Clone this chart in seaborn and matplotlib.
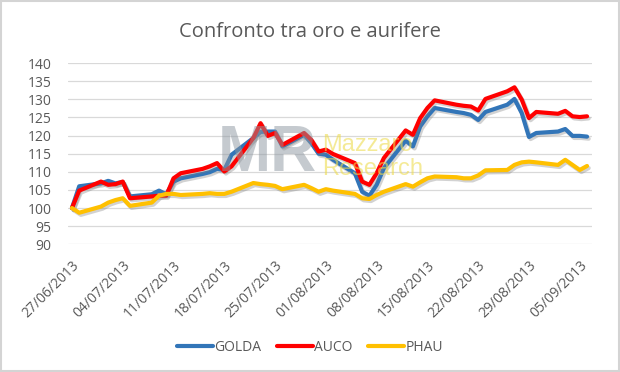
import pandas as pd
import numpy as np
import matplotlib
matplotlib.use("Agg")
import matplotlib.pyplot as plt
import matplotlib.dates as mdates
import matplotlib.patheffects as pe
from matplotlib.lines import Line2D
from matplotlib.patches import Rectangle
import seaborn as sns

# Giorni di borsa (27/06/2013 - 06/09/2013)
dates = ["27/06/2013", "28/06/2013",
         "01/07/2013", "02/07/2013", "03/07/2013", "04/07/2013", "05/07/2013",
         "08/07/2013", "09/07/2013", "10/07/2013", "11/07/2013", "12/07/2013",
         "15/07/2013", "16/07/2013", "17/07/2013", "18/07/2013", "19/07/2013",
         "22/07/2013", "23/07/2013", "24/07/2013", "25/07/2013", "26/07/2013",
         "29/07/2013", "30/07/2013", "31/07/2013", "01/08/2013", "02/08/2013",
         "05/08/2013", "06/08/2013", "07/08/2013", "08/08/2013", "09/08/2013",
         "12/08/2013", "13/08/2013", "14/08/2013", "15/08/2013", "16/08/2013",
         "19/08/2013", "20/08/2013", "21/08/2013", "22/08/2013", "23/08/2013",
         "26/08/2013", "27/08/2013", "28/08/2013", "29/08/2013", "30/08/2013",
         "02/09/2013", "03/09/2013", "04/09/2013", "05/09/2013", "06/09/2013"]

golda = [100, 106,
         106.8, 107.5, 106.8, 107.2, 103.2,
         103.8, 104.8, 103.8, 107.3, 108.2,
         109.4, 109.9, 110.8, 110.5, 114.7,
         119.3, 121.0, 121.1, 121.1, 117.0,
         120.2, 117.9, 115.0, 114.7, 113.3,
         109.6, 104.5, 103.4, 106.4, 111.0,
         118.6, 117.0, 122.5, 125.3, 127.6,
         126.5, 126.2, 125.7, 124.3, 126.5,
         128.5, 130.1, 126.2, 119.6, 120.7,
         121.1, 121.8, 119.9, 119.9, 119.7]

auco = [100, 104.8,
        107.3, 106.4, 106.6, 107.3, 102.7,
        103.2, 103.4, 103.4, 108.2, 109.6,
        110.8, 111.5, 112.4, 110.1, 111.5,
        119.3, 123.4, 119.9, 120.7, 117.4,
        120.7, 118.8, 115.6, 116.1, 114.9,
        112.4, 107.3, 106.4, 109.6, 113.8,
        121.4, 120.2, 124.8, 127.6, 129.7,
        128.5, 128.2, 128.0, 126.9, 130.1,
        132.2, 133.3, 129.9, 124.8, 126.5,
        126.0, 126.8, 125.3, 125.1, 125.3]

phau = [100, 98.7,
        100.4, 101.5, 102.2, 102.7, 100.6,
        101.5, 103.4, 103.9, 103.9, 103.6,
        103.9, 104.1, 103.9, 103.9, 104.5,
        106.9, 106.6, 106.4, 106.1, 105.2,
        106.4, 105.5, 104.5, 105.2, 104.8,
        103.9, 102.7, 102.5, 103.6, 104.5,
        106.6, 105.9, 107.1, 108.2, 108.7,
        108.5, 108.2, 108.2, 109.0, 110.4,
        110.5, 111.9, 112.6, 112.8, 112.6,
        111.9, 113.3, 111.9, 110.5, 111.6]

series = ["GOLDA", "AUCO", "PHAU"]
colori = {"GOLDA": "#3275B8", "AUCO": "#FF0000", "PHAU": "#FFC000"}

tick_labels = ["27/06/2013", "04/07/2013", "11/07/2013", "18/07/2013",
               "25/07/2013", "01/08/2013", "08/08/2013", "15/08/2013",
               "22/08/2013", "29/08/2013", "05/09/2013"]

d = pd.to_datetime(dates, format="%d/%m/%Y")
df = pd.DataFrame({"data": np.tile(d, 3),
                   "valore": golda + auco + phau,
                   "serie": np.repeat(series, len(dates))})

sns.set_style("white")
plt.rcParams["font.family"] = ["Open Sans", "DejaVu Sans"]

fig = plt.figure(figsize=(6.2, 3.72), dpi=100)
ax = fig.add_axes([0.1097, 0.3433, 0.8453, 0.4873])

# grigliato orizzontale
for v in range(90, 141, 5):
    ax.axhline(v, color="#D9D9D9", lw=0.9, zorder=0)

sns.lineplot(data=df, x="data", y="valore", hue="serie", hue_order=series,
             palette=colori, linewidth=3.0, legend=False, ax=ax, zorder=3)
for line in ax.get_lines()[-3:]:
    line.set_path_effects([pe.SimpleLineShadow(offset=(1.2, -1.5), shadow_color="#7F7F7F", alpha=0.35),
                           pe.Normal()])
    line.set_solid_joinstyle("round")

start = d[0]
ax.set_xlim(start - pd.Timedelta(hours=13), start + pd.Timedelta(days=71.7))
ax.set_ylim(90, 140)
ax.set_yticks(range(90, 141, 5))
ax.set_xticks(pd.to_datetime(tick_labels, format="%d/%m/%Y"))
ax.xaxis.set_major_formatter(mdates.DateFormatter("%d/%m/%Y"))
plt.setp(ax.get_xticklabels(), rotation=45, ha="right", rotation_mode="anchor")
ax.tick_params(axis="both", length=0, labelsize=10, colors="#595959")
ax.tick_params(axis="x", pad=10)
ax.tick_params(axis="y", pad=12)
ax.set_xlabel("")
ax.set_ylabel("")
for s in ax.spines.values():
    s.set_visible(False)

# watermark
ax.text(0.38, 0.50, "MR", transform=ax.transAxes, fontsize=46, family="Liberation Sans",
        fontweight="bold", color="#8C96A0", alpha=0.5, ha="center", va="center", zorder=4)
ax.text(0.485, 0.545, "Mazzaro", transform=ax.transAxes, fontsize=17, family="Liberation Sans",
        color="#EEDC50", alpha=0.6, ha="left", va="center", zorder=4)
ax.text(0.485, 0.415, "Research", transform=ax.transAxes, fontsize=17, family="Liberation Sans",
        color="#EEDC50", alpha=0.6, ha="left", va="center", zorder=4)

fig.text(0.5, 0.915, "Confronto tra oro e aurifere", ha="center", va="center",
         fontsize=14.5, color="#595959")

handles = [Line2D([0], [0], color=colori[s], lw=3.0) for s in series]
fig.legend(handles, series, loc="center", bbox_to_anchor=(0.5, 0.065), ncol=3,
           frameon=False, fontsize=10, labelcolor="#595959", handlelength=2.6,
           handletextpad=0.1, columnspacing=1.1)

fig.add_artist(Rectangle((0.002, 0.003), 0.996, 0.994, transform=fig.transFigure,
                         fill=False, edgecolor="#D4D4D4", lw=1.5))

fig.savefig("out.png", dpi=100)
